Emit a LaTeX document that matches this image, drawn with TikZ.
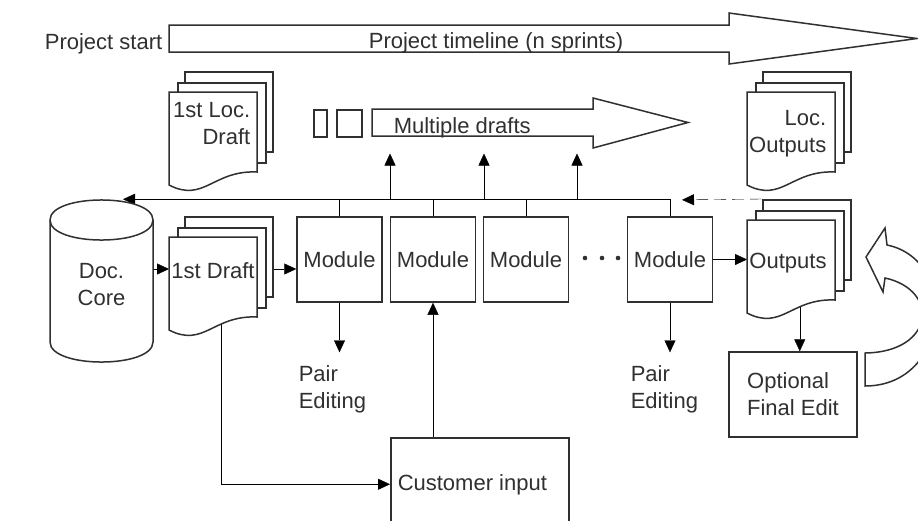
\documentclass[tikz,border=0pt]{standalone}
\usepackage{fontspec}
\setmainfont{Liberation Sans}
\usetikzlibrary{arrows.meta,calc}
\pgfdeclarelayer{bg}
\pgfsetlayers{bg,main}
\definecolor{ink}{RGB}{48,48,48}

\tikzset{
  page/.style={draw, fill=white, rectangle, inner sep=0, minimum width=88, minimum height=80},
  box/.style={draw, fill=white, rectangle, inner sep=0, minimum width=85, minimum height=85},
  arr/.style={-{Triangle[length=12pt,width=11pt]}},
  txt/.style={inner sep=0, align=left},
}

% stack of three pages; #1 name, (#2,#3) top-left corner of the front page
\newcommand{\docstack}[3]{%
  \node[page, anchor=north west] (#1-back) at (#2+15,#3-21) {};
  \node[page, anchor=north west] (#1-mid) at (#2+8,#3-10) {};
  \filldraw[fill=white] (#2,#3) -- ++(88,0) -- ++(0,80)
     .. controls (#2+44,#3+78) and (#2+35,#3+111) .. (#2,#3+93) -- cycle;
  \node[inner sep=0, minimum width=88, minimum height=93, anchor=north west] (#1) at (#2,#3) {};
}

\begin{document}
\begin{tikzpicture}[x=1pt, y=-1pt, line width=1.5pt, color=ink,
    font=\fontsize{22}{27}\selectfont]
\clip (0,0) rectangle (918,520);

% project timeline
\filldraw[fill=white] (169,25) -- (729,25) -- (729,13) -- (917,38.5) -- (729,64)
   -- (729,52) -- (169,52) -- cycle;
\node[anchor=base east, inner sep=0] (start) at (163,49) {Project start};
\node[anchor=base, inner sep=0] (timeline) at (496,48) {Project timeline (n sprints)};

% multiple drafts
\node[draw, inner sep=0, minimum width=13, minimum height=27, anchor=north west] (mdA) at (313,109) {};
\node[draw, inner sep=0, minimum width=25, minimum height=27, anchor=north west] (mdB) at (336,109) {};
\filldraw[fill=white] (372,109) -- (593,109) -- (593,98) -- (688,122.5) -- (593,148)
   -- (593,136) -- (372,136) -- cycle;
\node[inner sep=0, minimum width=221, minimum height=27, anchor=north west] (md) at (372,109) {};
\node[anchor=base west, inner sep=0] (mdtext) at (393,133) {Multiple drafts};

% document stacks (multi-line labels are placed by the baseline of their last line)
\docstack{locdraft}{169}{92}
\node[txt, align=right, anchor=base east] (locdrafttext) at (251,144) {1st Loc.\\Draft};
\docstack{locout}{747}{92}
\node[txt, align=right, anchor=base east] (locouttext) at (827,152) {Loc.\\Outputs};
\docstack{draft}{169}{237}
\node[anchor=base, inner sep=0] (drafttext) at (213,278) {1st Draft};
\docstack{out}{747}{220}
\node[anchor=base, inner sep=0] (outtext) at (788,268) {Outputs};

% document core cylinder
\node[inner sep=0, minimum width=103, minimum height=162] (core) at (101.5,281) {};
\filldraw[fill=white] (50,220) -- (50,342) .. controls (50,368.7) and (153,368.7) .. (153,342)
   -- (153,220) .. controls (153,193.3) and (50,193.3) .. (50,220) -- cycle;
\draw (50,220) .. controls (50,246.7) and (153,246.7) .. (153,220);
\node[align=center, anchor=base, inner sep=0] (coretext) at (101.5,305) {Doc.\\Core};

% modules
\node[box] (m1) at (339.5,259.5) {Module};
\node[box] (m2) at (433,259.5) {Module};
\node[box] (m3) at (526,259.5) {Module};
\node[box] (m4) at (670,259.5) {Module};
\foreach \x [count=\i] in {585,602,618}
  \node[circle, fill, inner sep=0, minimum size=4.6] (dot\i) at (\x,258) {};

% pair editing labels
\node[txt, anchor=base west] (pe1) at (298,408) {Pair\\Editing};
\node[txt, anchor=base west] (pe4) at (630,408) {Pair\\Editing};

% final edit and customer input
\node[draw, fill=white, minimum width=128, minimum height=85, inner sep=0, align=left]
  (ofe) at (793,394.5) {Optional\\Final Edit};
\node[draw, fill=white, minimum width=178, minimum height=93, inner sep=0, anchor=north west]
  (ci) at (390,437) {};
\node[anchor=base west, inner sep=0] (citext) at (397,490) {Customer input};

% hollow curved arrow for the repeated final edit
\filldraw[fill=white] (865,353) .. controls (935,352) and (940,290) .. (885,278)
   -- (883,292) -- (866,257) -- (885,228) -- (887,245)
   .. controls (960,260) and (950,386) .. (865,386) -- cycle;

% connectors
\begin{pgfonlayer}{bg}
  \coordinate (rowA) at (0,269);
  \coordinate (bus) at (0,200);
  \draw[arr] (core.east |- rowA) -- (draft.west |- rowA);
  \draw[arr] (draft-back.east |- rowA) -- (m1.west |- rowA);
  \draw[arr] (m4.east) -- (out.west |- m4.east);
  \draw[arr] (m4.north) |- ($(core.north)+(21.5,0)$);
  \foreach \m in {m1,m2,m3} \draw (\m.north) -- (\m.north |- bus);
  \foreach \x [count=\i] in {390,484,577} {
    \coordinate (up\i) at (\x,200);
    \draw[arr, shorten >=16pt] (up\i) -- (up\i |- md.south);
  }
  \draw[arr, dash pattern=on 12pt off 6pt, shorten >=12pt] (out-back.north west) -- (m4.north |- bus);
  \draw[arr, shorten >=12pt] (m1.south) -- (m1.south |- pe1.north);
  \draw[arr, shorten >=12pt] (m4.south) -- (m4.south |- pe4.north);
  \coordinate (oc) at ($(out.center)+(8,0)$);
  \draw[arr] (oc) -- (oc |- ofe.north);
  \draw[arr] (ci.north -| m2.south) -- (m2.south);
  \coordinate (dc) at ($(draft.center)+(7,0)$);
  \draw[arr] (dc) |- (ci.west);
\end{pgfonlayer}
\end{tikzpicture}
\end{document}
